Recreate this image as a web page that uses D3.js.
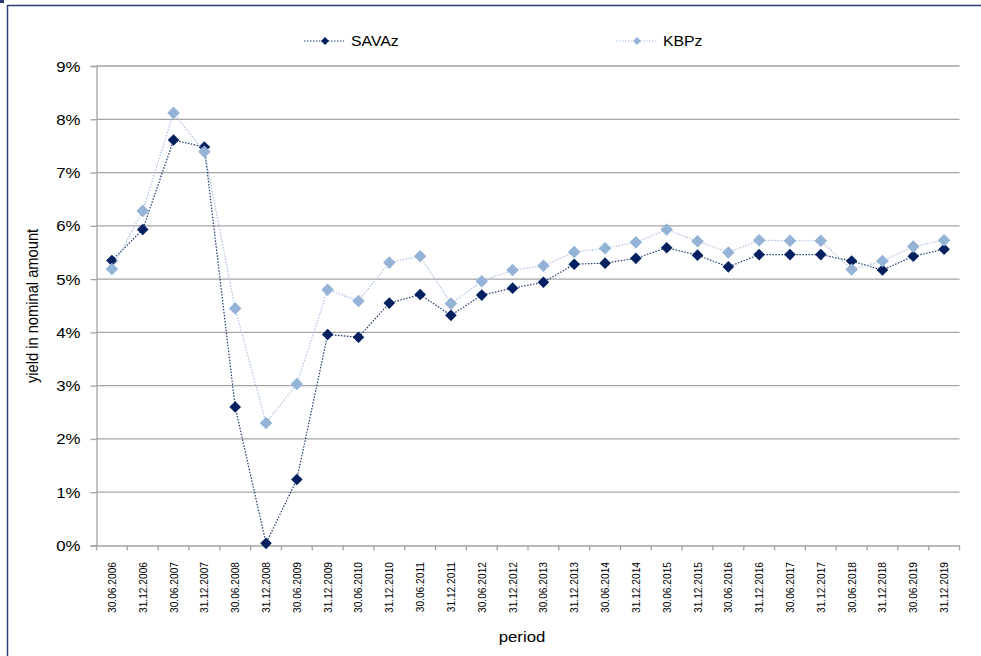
<!DOCTYPE html>
<html><head><meta charset="utf-8">
<script src="https://cdn.jsdelivr.net/npm/d3@7"></script>
<style>body{margin:0;background:#fff;}svg{display:block;font-family:"Liberation Sans",Arial,sans-serif;}</style>
</head><body>
<svg id="c" width="981" height="656"></svg>
<script>
const categories = ["30.06.2006","31.12.2006","30.06.2007","31.12.2007","30.06.2008","31.12.2008","30.06.2009","31.12.2009","30.06.2010","31.12.2010","30.06.2011","31.12.2011","30.06.2012","31.12.2012","30.06.2013","31.12.2013","30.06.2014","31.12.2014","30.06.2015","31.12.2015","30.06.2016","31.12.2016","30.06.2017","31.12.2017","30.06.2018","31.12.2018","30.06.2019","31.12.2019"];
const savaz = [5.35,5.93,7.61,7.48,2.60,0.04,1.24,3.96,3.91,4.55,4.71,4.32,4.70,4.83,4.94,5.28,5.30,5.39,5.59,5.45,5.23,5.46,5.46,5.46,5.34,5.17,5.43,5.56];
const kbpz = [5.19,6.28,8.12,7.39,4.45,2.30,3.03,4.80,4.59,5.31,5.43,4.54,4.96,5.17,5.25,5.51,5.58,5.69,5.93,5.71,5.50,5.73,5.72,5.72,5.18,5.34,5.61,5.73];
const yTicks = [0,1,2,3,4,5,6,7,8,9];
const seriesNames = ["SAVAz","KBPz"];
const seriesColors = ["#002060","#95b3d7"];
const lineColors = ["#1f3a70","#a9c1e0"];

const svg = d3.select("#c");
const L = 96.5, R = 959.5, T = 66, B = 545.5;
const x = d3.scaleBand().domain(categories).range([L, R]);
const y = d3.scaleLinear().domain([0, 9]).range([B, T]);
const SX = 1.2;

// outer frame
svg.append("path").attr("d", "M7.5,656 V5.5 H981").attr("fill","none").attr("stroke","#2b3f73").attr("stroke-width",1.5);
svg.append("path").attr("d", "M0,1.5 H4").attr("stroke","#2b3f73").attr("stroke-width",3);

// gridlines
svg.append("g").selectAll("line").data(yTicks.filter(d=>d>0)).join("line")
  .attr("x1", L).attr("x2", R).attr("y1", d=>y(d)).attr("y2", d=>y(d))
  .attr("stroke","#a3a3a3").attr("stroke-width",1.3);

// y axis
const yAxis = svg.append("g").attr("transform",`translate(${L},0)`)
  .call(d3.axisLeft(y).tickValues(yTicks).tickSize(6).tickFormat(d=>d+"%"));
yAxis.select(".domain").attr("stroke","#a3a3a3").attr("stroke-width",1.3);
yAxis.selectAll(".tick line").attr("stroke","#a3a3a3").attr("stroke-width",1.3);
yAxis.selectAll(".tick text").remove();
yAxis.selectAll(".tick").append("text")
  .attr("transform",`translate(-16,0) scale(${SX},1)`)
  .attr("text-anchor","end").attr("dy","0.36em")
  .attr("font-size",14).attr("fill","#000").text(d=>d+"%");

// x axis
const xAxis = svg.append("g").attr("transform",`translate(0,${B})`)
  .call(d3.axisBottom(x).tickSize(0).tickFormat(""));
xAxis.select(".domain").attr("stroke","#a3a3a3").attr("stroke-width",1.3);
// boundary ticks
const bounds = categories.map(c=>x(c)).concat([x(categories[categories.length-1])+x.bandwidth()]);
svg.append("g").selectAll("line").data(bounds).join("line")
  .attr("x1",d=>d).attr("x2",d=>d).attr("y1",B).attr("y2",B+5)
  .attr("stroke","#a3a3a3").attr("stroke-width",1.3);
svg.append("g").selectAll("text").data(categories).join("text")
  .attr("transform",d=>`translate(${x(d)+x.bandwidth()/2+4},562) rotate(-90) scale(1,1.15)`)
  .attr("text-anchor","end").attr("font-size",10.2).attr("fill","#000").text(d=>d);

// axis titles
svg.append("text").attr("transform",`translate(38,306) rotate(-90) scale(1.05,1.2)`)
  .attr("text-anchor","middle").attr("font-size",14).attr("fill","#000").text("yield in nominal amount");
svg.append("text").attr("transform",`translate(522,642) scale(${SX},1)`)
  .attr("text-anchor","middle").attr("font-size",14).attr("fill","#000").text("period");

const diamond = s => `M0,${-s} L${s},0 L0,${s} L${-s},0 Z`;
const cx = d => x(d) + x.bandwidth()/2;
const allData = [savaz, kbpz];
allData.forEach((vals,i)=>{
  const pts = vals.map((v,j)=>[cx(categories[j]), y(v)]);
  svg.append("path").attr("d", d3.line()(pts)).attr("fill","none")
    .attr("stroke", lineColors[i]).attr("stroke-width",1.2).attr("stroke-dasharray","1.5,1.5");
  svg.append("g").selectAll("path").data(pts).join("path")
    .attr("transform",p=>`translate(${p[0]},${p[1]})`)
    .attr("d", diamond(i===0?5.8:6.3)).attr("fill", seriesColors[i]);
});

// legend
const legX = [304, 616];
seriesNames.forEach((n,i)=>{
  const g = svg.append("g").attr("transform",`translate(${legX[i]},41)`);
  g.append("line").attr("x1",0).attr("x2",40).attr("y1",0).attr("y2",0)
    .attr("stroke",lineColors[i]).attr("stroke-width",1.2).attr("stroke-dasharray","1.5,1.5");
  g.append("path").attr("transform","translate(21,0)").attr("d",diamond(4)).attr("fill",seriesColors[i]);
  g.append("text").attr("transform",`translate(47,0) scale(1.13,1)`).attr("dy","0.36em")
    .attr("font-size",14).attr("fill","#000").text(n);
});
</script>
</body></html>
